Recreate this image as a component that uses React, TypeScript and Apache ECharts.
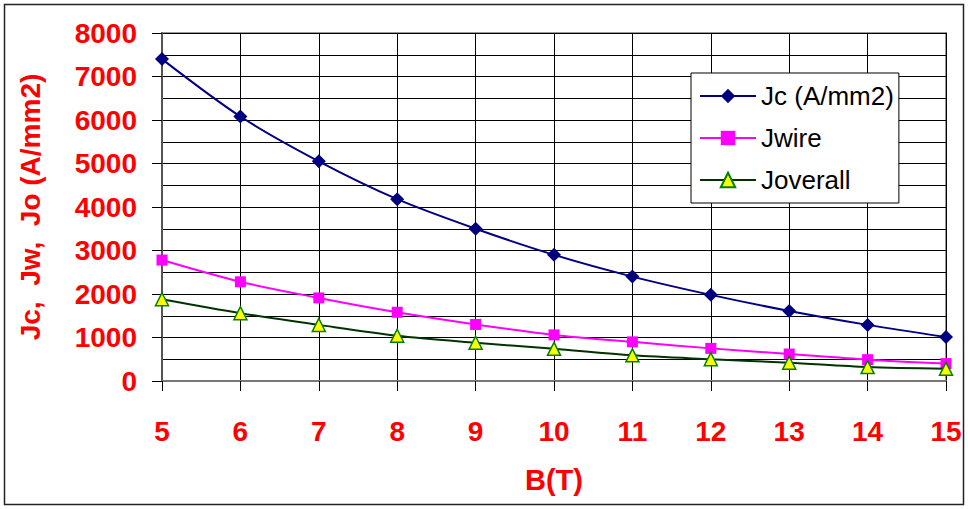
import React, { useEffect, useRef } from "react";
import * as echarts from "echarts";

const bField = [5, 6, 7, 8, 9, 10, 11, 12, 13, 14, 15];
const jcValues = [7400, 6080, 5050, 4180, 3500, 2900, 2400, 1980, 1610, 1290, 1010];
const jwireValues = [2780, 2280, 1910, 1580, 1300, 1060, 900, 750, 620, 490, 400];
const joverallValues = [1880, 1560, 1290, 1040, 880, 740, 590, 500, 420, 320, 280];
const seriesNames = ["Jc (A/mm2)", "Jwire", "Joverall"];
const xAxisName = "B(T)";
const yAxisName = "Jc,  Jw,  Jo (A/mm2)";

const pairs = (vals: number[]) => bField.map((b, i) => [b, vals[i]]);

const FONT = "'Liberation Sans', Arial, sans-serif";

export default function App() {
  const ref = useRef<HTMLDivElement>(null);
  useEffect(() => {
    document.body.style.margin = "0";
    const chart = echarts.init(ref.current!, null, { renderer: "svg" });
    chart.setOption({
      animation: false,
      backgroundColor: "#ffffff",
      graphic: [
        {
          type: "rect",
          shape: { x: 4.5, y: 4.5, width: 959, height: 500 },
          style: { fill: "none", stroke: "#222", lineWidth: 1.5 },
          z: 0,
        },
      ],
      grid: {
        left: 162,
        right: 22,
        top: 33,
        bottom: 128,
        show: true,
        borderColor: "#999",
        borderWidth: 2,
        backgroundColor: "transparent",
      },
      legend: {
        orient: "vertical",
        left: 691,
        top: 73,
        width: 209,
        padding: [8, 5, 8, 8],
        itemGap: 12,
        itemWidth: 56,
        itemHeight: 18,
        backgroundColor: "#fff",
        borderColor: "#000",
        borderWidth: 1,
        textStyle: { fontFamily: FONT, fontSize: 26, color: "#000", lineHeight: 30 },
        data: seriesNames,
      },
      xAxis: {
        type: "value",
        min: 5,
        max: 15,
        interval: 1,
        name: xAxisName,
        nameLocation: "middle",
        nameGap: 84,
        nameTextStyle: { fontFamily: FONT, fontSize: 29, fontWeight: "bold", color: "#ff0000" },
        axisLine: { show: true, onZero: false, lineStyle: { color: "#777", width: 2 } },
        axisTick: { show: true, length: 10, lineStyle: { color: "#000", width: 1 } },
        axisLabel: { margin: 36, fontFamily: FONT, fontSize: 28, fontWeight: "bold", color: "#ff0000" },
        splitLine: { show: true, lineStyle: { color: "#000", width: 1 } },
      },
      yAxis: {
        type: "value",
        min: 0,
        max: 8000,
        interval: 1000,
        name: yAxisName,
        nameLocation: "middle",
        nameGap: 118,
        nameTextStyle: { fontFamily: FONT, fontSize: 28, fontWeight: "bold", color: "#ff0000" },
        axisLine: { show: true, lineStyle: { color: "#555", width: 2 } },
        axisTick: { show: true, length: 10, lineStyle: { color: "#000", width: 1 } },
        axisLabel: {
          margin: 25,
          fontFamily: FONT,
          fontSize: 28,
          fontWeight: "bold",
          color: "#ff0000",
          formatter: (v: number) => String(v),
        },
        splitLine: { show: true, lineStyle: { color: "#000", width: 1 } },
        minorTick: { show: false, splitNumber: 2 },
        minorSplitLine: { show: true, lineStyle: { color: "#000", width: 1 } },
      },
      series: [
        {
          name: seriesNames[0],
          type: "line",
          data: pairs(jcValues),
          smooth: 0.3,
          symbol: "diamond",
          symbolSize: 14,
          lineStyle: { color: "#000080", width: 2 },
          itemStyle: { color: "#000080" },
          z: 5,
        },
        {
          name: seriesNames[1],
          type: "line",
          data: pairs(jwireValues),
          smooth: 0.3,
          symbol: "rect",
          symbolSize: 11,
          lineStyle: { color: "#ff00ff", width: 2 },
          itemStyle: { color: "#ff00ff" },
          z: 4,
        },
        {
          name: seriesNames[2],
          type: "line",
          data: pairs(joverallValues),
          smooth: 0.3,
          symbol: "triangle",
          symbolSize: 13,
          lineStyle: { color: "#003300", width: 2 },
          itemStyle: { color: "#ffff00", borderColor: "#008000", borderWidth: 1.5 },
          z: 6,
        },
      ],
    });
    return () => chart.dispose();
  }, []);
  return <div ref={ref} style={{ position: "fixed", left: 0, top: 0, width: 968, height: 509 }} />;
}
